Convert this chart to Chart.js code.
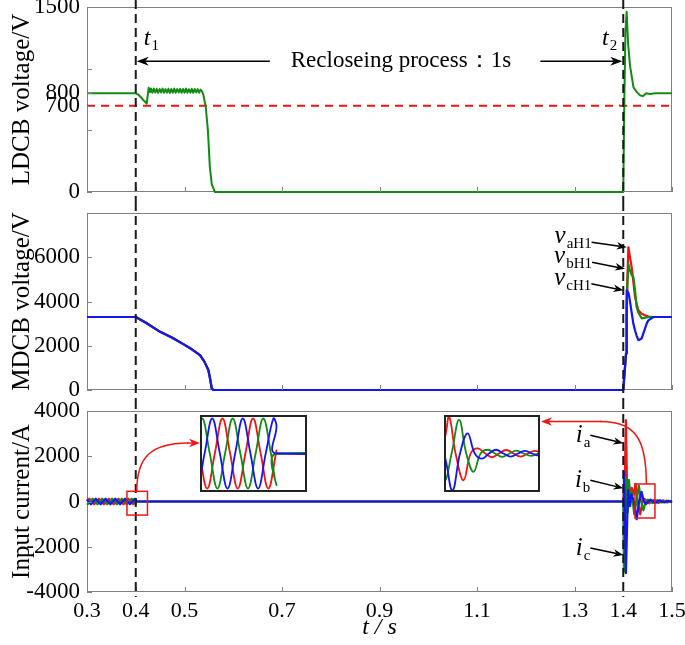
<!DOCTYPE html>
<html>
<head>
<meta charset="utf-8">
<title>Reclosing waveforms</title>
<script src="https://cdn.jsdelivr.net/npm/chart.js@4.4.1/dist/chart.umd.min.js"></script>
<style>
  body { margin: 0; background: #fff; }
  #wrap { position: relative; width: 685px; height: 645px; overflow: hidden; }
  #wrap canvas { position: absolute; }
</style>
</head>
<body>
<div id="wrap">
  <canvas id="c1" width="685" height="202"></canvas>
  <canvas id="c2" width="685" height="198"></canvas>
  <canvas id="c3" width="685" height="245"></canvas>
  <canvas id="in1" width="107" height="77"></canvas>
  <canvas id="in2" width="96" height="77"></canvas>
</div>
<script>
const RED = '#f01414', GREEN = '#138a13', BLUE = '#1414f5';
const FAM = "'Liberation Serif', 'Times New Roman', serif";
Chart.defaults.font.family = FAM;
Chart.defaults.color = '#000';

// ---- data ----
const xTickVals  = [0.3, 0.4, 0.5, 0.7, 0.9, 1.1, 1.3, 1.4, 1.5];
const eventTimes = [0.4, 1.4];

// LDCB voltage (V)
const ldcbTicks  = [0, 500, 700, 800, 1000, 1500];
const ldcbLabels = [0, 700, 800, 1500];
const ldcbT = [0.3, 0.4, 0.405, 0.41, 0.415, 0.4225, 0.425, 0.4265, 0.429, 0.431, 0.434, 0.437, 0.44, 0.443,
  0.446, 0.449, 0.452, 0.455, 0.458, 0.461, 0.464, 0.467, 0.47, 0.473, 0.476, 0.479, 0.482, 0.485, 0.488,
  0.491, 0.494, 0.497, 0.5, 0.503, 0.506, 0.509, 0.512, 0.515, 0.518, 0.521, 0.524, 0.527, 0.53, 0.533,
  0.536, 0.5385, 0.541, 0.5435, 0.548, 0.552, 0.556, 0.5626, 0.58, 1.399, 1.4, 1.402, 1.4045, 1.407, 1.41,
  1.414, 1.421, 1.428, 1.434, 1.44, 1.447, 1.455, 1.465, 1.5];
const ldcbV = [800, 800, 790, 770, 748, 717, 800, 845, 808, 840, 805, 838, 806, 836,
  804, 835, 807, 838, 805, 834, 806, 837, 804, 835, 806, 838, 805, 834, 807,
  836, 804, 835, 806, 838, 805, 833, 806, 836, 804, 835, 807, 834, 805, 830,
  815, 790, 740, 693, 500, 204, 60, 0, 0, 0, 0, 700, 1300, 1462, 1200,
  1021, 848, 810, 785, 777, 800, 795, 800, 800];
const limitT = [0.3, 1.5];
const limitV = [700, 700];

// MDCB voltage (V)
const mdcbTicks  = [0, 2000, 4000, 6000, 8000];
const mdcbLabels = [0, 2000, 4000, 6000];
const mdcbT = [0.3, 0.4, 0.42, 0.45, 0.475, 0.4976, 0.515, 0.5318, 0.541, 0.5489, 0.553, 0.5558, 0.559,
  1.4, 1.4057, 1.407, 1.4085, 1.4105, 1.4125, 1.4173, 1.4207, 1.4241, 1.4275, 1.431, 1.4378, 1.448,
  1.4515, 1.4617, 1.5];
const vaH1 = [3300, 3300, 3050, 2628, 2360, 2072, 1840, 1577, 1270, 901, 450, 75, 0,
  0, 1650, 3500, 5000, 6450, 6200, 5550, 4900, 4200, 3900, 3600, 3450, 3350, 3320, 3300, 3300];
const vbH1 = [3300, 3300, 3050, 2628, 2360, 2072, 1840, 1577, 1270, 901, 450, 75, 0,
  0, 1650, 3600, 4800, 5700, 5500, 5200, 5100, 4500, 3750, 3500, 3240, 3280, 3300, 3300, 3300];
const vcH1 = [3300, 3300, 3050, 2628, 2360, 2072, 1840, 1577, 1270, 901, 450, 75, 0,
  0, 1650, 4500, 4450, 4400, 4200, 3500, 3000, 2700, 2450, 2250, 2330, 3000, 3150, 3300, 3300];

// input currents (A)
const curTicks = [-4000, -2000, 0, 2000, 4000];
const iaT = [0.3, 0.3047, 0.3097, 0.3147, 0.3197, 0.3247, 0.3297, 0.3347, 0.3397, 0.3447, 0.3497, 0.3547,
  0.3597, 0.3647, 0.3697, 0.3747, 0.3797, 0.3847, 0.3897, 0.3947, 0.3997, 0.4, 0.4003, 1.4,
  1.4035, 1.4055, 1.4075, 1.409, 1.4115, 1.4145, 1.4175, 1.422, 1.4253, 1.4296, 1.4348, 1.4395, 1.4441,
  1.449, 1.4536, 1.458, 1.4628, 1.4676, 1.4724, 1.477, 1.4817, 1.486, 1.4905, 1.495, 1.5];
const iaV = [11, 120, 0, -120, 0, 120, 0, -120, 0, 120, 0, -120,
  0, 120, 0, -120, 0, 120, 0, -120, 0, 11, 0, 0,
  1400, 3600, 1000, -300, 950, 100, 600, 300, 785, 0, -570, 0, 110,
  0, -80, 0, 75, 0, -65, 0, 55, 0, -45, 0, 35];
const ibT = [0.3, 0.3014, 0.3064, 0.3114, 0.3164, 0.3214, 0.3264, 0.3314, 0.3364, 0.3414, 0.3464, 0.3514,
  0.3564, 0.3614, 0.3664, 0.3714, 0.3764, 0.3814, 0.3864, 0.3914, 0.3964, 0.4, 0.4003, 1.4,
  1.4015, 1.404, 1.4065, 1.409, 1.4115, 1.4145, 1.4175, 1.4225, 1.427, 1.4319, 1.4366, 1.4414, 1.446,
  1.4507, 1.4555, 1.4602, 1.465, 1.4695, 1.4743, 1.479, 1.4838, 1.4885, 1.4935, 1.498, 1.5];
const ibV = [-109, -120, 0, 120, 0, -120, 0, 120, 0, -120, 0, 120,
  0, -120, 0, 120, 0, -120, 0, 120, 0, -109, 0, 0,
  -3100, -1000, 1000, -500, 950, -200, 400, -560, 0, 715, 0, -390, 0,
  80, 0, -70, 0, 60, 0, -50, 0, 40, 0, -30, -15];
const icT = [0.3, 0.303, 0.308, 0.313, 0.318, 0.323, 0.328, 0.333, 0.338, 0.343, 0.348, 0.353,
  0.358, 0.363, 0.368, 0.373, 0.378, 0.383, 0.388, 0.393, 0.398, 0.4, 0.4003, 1.4,
  1.4015, 1.4055, 1.4085, 1.41, 1.413, 1.4165, 1.422, 1.4275, 1.4325, 1.4375, 1.4422, 1.4469,
  1.4515, 1.4562, 1.461, 1.4658, 1.4705, 1.475, 1.4797, 1.4845, 1.489, 1.4935, 1.498, 1.5];
const icV = [97, 0, -120, 0, 120, 0, -120, 0, 120, 0, -120, 0,
  120, 0, -120, 0, 120, 0, -120, 0, 120, 97, 0, 0,
  1300, -3170, -500, 500, -200, 300, 0, -785, 0, 430, 0, -110,
  0, 80, 0, -65, 0, 55, 0, -45, 0, 35, 0, -20];

// zoom windows (red boxes) and the insets that show them
const box1 = { t0: 0.382, t1: 0.424, v0: -600, v1: 450 };
const box2 = { t0: 1.424, t1: 1.465, v0: -730, v1: 775 };
const inset1 = { left: 200, top: 415, w: 107, h: 77, t0: 0.35, t1: 0.42, vmax: 132 };
const inset2 = { left: 444, top: 415, w: 96, h: 77, t0: 1.422, t1: 1.485, vmax: 820 };

// ---- helpers ----
const pts = (ts, vs) => ts.map((t, i) => ({ x: t, y: vs[i] }));

function line(ts, vs, color, width, extra) {
  return Object.assign({ data: pts(ts, vs), borderColor: color, borderWidth: width,
    pointRadius: 0, borderJoinStyle: 'round', fill: false, clip: 3 }, extra || {});
}

function currentSets(width, tension) {
  return [
    line(icT, icV, BLUE, width, { tension }),
    line(ibT, ibV, GREEN, width, { tension }),
    line(iaT, iaV, RED, width, { tension })
  ];
}

function yAxis(min, max, tickList, labelList) {
  return {
    min, max,
    afterBuildTicks: s => { s.ticks = tickList.map(v => ({ value: v })); },
    afterFit: s => { s.width = 87; s.paddingTop = 0; s.paddingBottom = 0; },
    grid: { display: false, drawTicks: false },
    border: { display: false },
    ticks: { autoSkip: false, padding: 7, font: { size: 23 },
      callback: v => labelList.includes(v) ? String(v) : '' }
  };
}

function xAxis(show) {
  return {
    type: 'linear', min: 0.3, max: 1.5, display: show,
    afterBuildTicks: s => { s.ticks = xTickVals.map(v => ({ value: v })); },
    afterFit: s => { if (show) s.height = 53; s.paddingLeft = 0; s.paddingRight = 0; },
    grid: { display: false, drawTicks: false },
    border: { display: false },
    ticks: { autoSkip: false, maxRotation: 0, padding: 6, font: { size: 22 },
      callback: v => v.toFixed(1) },
    title: { display: true, text: 't / s', font: { size: 24, style: 'italic' }, padding: { top: 0, bottom: 3 } }
  };
}

function arrow(ctx, x0, y0, x1, y1, color, head) {
  head = head || 10;
  const a = Math.atan2(y1 - y0, x1 - x0), c = Math.cos(a), s = Math.sin(a);
  ctx.save();
  ctx.strokeStyle = color; ctx.fillStyle = color; ctx.lineWidth = 1.5; ctx.setLineDash([]);
  ctx.beginPath(); ctx.moveTo(x0, y0); ctx.lineTo(x1 - head * 0.7 * c, y1 - head * 0.7 * s); ctx.stroke();
  ctx.beginPath();
  ctx.moveTo(x1, y1);
  ctx.lineTo(x1 - head * c + head * 0.38 * s, y1 - head * s - head * 0.38 * c);
  ctx.lineTo(x1 - head * 0.7 * c, y1 - head * 0.7 * s);
  ctx.lineTo(x1 - head * c - head * 0.38 * s, y1 - head * s + head * 0.38 * c);
  ctx.closePath(); ctx.fill();
  ctx.restore();
}

// italic symbol with an upright subscript, e.g. t1, vaH1, ia
function subLabel(ctx, main, sub, x, y, align, size, subSize) {
  ctx.save();
  ctx.fillStyle = '#000'; ctx.textAlign = 'left'; ctx.textBaseline = 'alphabetic';
  ctx.font = `italic ${size}px ${FAM}`;
  const w1 = ctx.measureText(main).width;
  ctx.font = `${subSize}px ${FAM}`;
  const w2 = ctx.measureText(sub).width;
  const x0 = align === 'right' ? x - w1 - w2 - 1 : x;
  ctx.font = `italic ${size}px ${FAM}`;
  ctx.fillText(main, x0, y);
  ctx.font = `${subSize}px ${FAM}`;
  ctx.fillText(sub, x0 + w1 + 1, y + 5);
  ctx.restore();
}

// frame under the data; inner tick marks, dashed event lines and the y title on top
function framePlugin(title, lineBottom) {
  return {
    id: 'frame',
    beforeDatasetsDraw(chart) {
      const { ctx, chartArea: a } = chart;
      ctx.save();
      ctx.strokeStyle = '#808080'; ctx.lineWidth = 1;
      ctx.strokeRect(a.left + 0.5, a.top + 0.5, a.right - a.left - 1, a.bottom - a.top - 1);
      ctx.restore();
    },
    afterDatasetsDraw(chart) {
      const { ctx, chartArea: a, scales: { x, y } } = chart;
      ctx.save();
      ctx.strokeStyle = '#808080'; ctx.lineWidth = 1;
      ctx.beginPath();
      xTickVals.forEach(v => {
        const px = Math.round(x.getPixelForValue(v)) + 0.5;
        ctx.moveTo(px, a.bottom); ctx.lineTo(px, a.bottom - 5);
      });
      y.ticks.forEach(t => {
        const py = Math.round(y.getPixelForValue(t.value)) + 0.5;
        ctx.moveTo(a.left, py); ctx.lineTo(a.left + 5, py);
      });
      ctx.stroke();
      ctx.strokeStyle = '#1a1a1a'; ctx.lineWidth = 2; ctx.setLineDash([9, 5]);
      ctx.beginPath();
      eventTimes.forEach(t => {
        const px = x.getPixelForValue(t);
        ctx.moveTo(px, 0); ctx.lineTo(px, lineBottom(chart));
      });
      ctx.stroke();
      ctx.setLineDash([]);
      ctx.translate(22, (a.top + a.bottom) / 2);
      ctx.rotate(-Math.PI / 2);
      ctx.font = `25px ${FAM}`; ctx.fillStyle = '#000';
      ctx.textAlign = 'center'; ctx.textBaseline = 'middle';
      ctx.fillText(title, 0, 0);
      ctx.restore();
    }
  };
}

function panel(id, top, datasets, title, yOpts, showX, padding, lineBottom, annotate) {
  const el = document.getElementById(id);
  el.style.left = '0px'; el.style.top = top + 'px';
  return new Chart(el, {
    type: 'line',
    data: { datasets },
    options: {
      responsive: false, animation: false, events: [],
      layout: { padding },
      plugins: { legend: { display: false }, tooltip: { enabled: false } },
      scales: { x: xAxis(showX), y: yOpts }
    },
    plugins: [framePlugin(title, lineBottom), { id: 'annot', afterDraw: annotate }]
  });
}

// ---- panel 1: LDCB voltage ----
panel('c1', 0, [
    line(ldcbT, ldcbV, GREEN, 2),
    line(limitT, limitV, RED, 2, { borderDash: [8, 6] })
  ],
  'LDCB voltage/V',
  yAxis(0, 1500, ldcbTicks, ldcbLabels),
  false, { left: 0, right: 13, top: 7, bottom: 10 },
  c => c.height,
  chart => {
    const { ctx, scales: { x, y } } = chart;
    const x1 = x.getPixelForValue(eventTimes[0]), x2 = x.getPixelForValue(eventTimes[1]);
    const ay = y.getPixelForValue(1060);
    subLabel(ctx, 't', '1', x1 + 8, 45, 'left', 24, 15);
    subLabel(ctx, 't', '2', x2 - 6, 45, 'right', 24, 15);
    arrow(ctx, x.getPixelForValue(0.675), ay, x1 + 1, ay, '#000', 12);
    arrow(ctx, x.getPixelForValue(1.23), ay, x2 - 1, ay, '#000', 12);
    ctx.save();
    ctx.font = `23px ${FAM}`;
    ctx.fillStyle = '#000'; ctx.textAlign = 'center'; ctx.textBaseline = 'middle';
    ctx.fillText('Recloseing process：1s', x.getPixelForValue(0.944), ay);
    ctx.restore();
  });

// ---- panel 2: MDCB voltage ----
const vNotes = [
  { sub: 'aH1', t: 1.407,  v: 6455, dx: -35, dy: -5 },
  { sub: 'bH1', t: 1.4036, v: 5480, dx: -33, dy: -6.5 },
  { sub: 'cH1', t: 1.4002, v: 4505, dx: -32, dy: -6.5 }
];
panel('c2', 202, [
    line(mdcbT, vcH1, BLUE, 2.2),
    line(mdcbT, vbH1, GREEN, 2.2),
    line(mdcbT, vaH1, RED, 2.2)
  ],
  'MDCB voltage/V',
  yAxis(0, 8000, mdcbTicks, mdcbLabels),
  false, { left: 0, right: 13, top: 11, bottom: 10 },
  c => c.height,
  chart => {
    const { ctx, scales: { x, y } } = chart;
    vNotes.forEach(n => {
      const px = x.getPixelForValue(n.t), py = y.getPixelForValue(n.v);
      arrow(ctx, px + n.dx, py + n.dy, px, py, '#000', 10);
      subLabel(ctx, 'v', n.sub, px + n.dx, py + n.dy + 1, 'right', 25, 15);
    });
  });

// ---- panel 3: input currents ----
const iNotes = [
  { sub: 'a', t: 1.4002, v: 2575,  dx: -33, dy: -8 },
  { sub: 'b', t: 1.4002, v: 584,   dx: -33, dy: -8 },
  { sub: 'c', t: 1.4002, v: -2367, dx: -33, dy: -7 }
];
panel('c3', 400, currentSets(2.2, 0),
  'Input current/A',
  yAxis(-4000, 4000, curTicks, curTicks),
  true, { left: 0, right: 13, top: 11, bottom: 0 },
  c => c.chartArea.bottom + 5,
  chart => {
    const { ctx, scales: { x, y } } = chart;
    const off = 400; // canvas top in page coordinates
    iNotes.forEach(n => {
      const px = x.getPixelForValue(n.t), py = y.getPixelForValue(n.v);
      arrow(ctx, px + n.dx, py + n.dy, px, py, '#000', 10);
      subLabel(ctx, 'i', n.sub, px + n.dx, py + n.dy + 7, 'right', 25, 15);
    });
    ctx.save();
    ctx.strokeStyle = RED; ctx.lineWidth = 1.5;
    [box1, box2].forEach(b => {
      const l = x.getPixelForValue(b.t0), r = x.getPixelForValue(b.t1);
      const t = y.getPixelForValue(b.v1), bt = y.getPixelForValue(b.v0);
      ctx.strokeRect(l, t, r - l, bt - t);
    });
    // curved arrow: box 1 -> inset 1
    const s1x = x.getPixelForValue(eventTimes[0]) + 1, s1y = y.getPixelForValue(box1.v1);
    const e1y = inset1.top - off + 28;
    ctx.beginPath();
    ctx.moveTo(s1x, s1y);
    ctx.bezierCurveTo(s1x, s1y - 33, s1x + 13, e1y, inset1.left - 12, e1y);
    ctx.stroke();
    ctx.restore();
    arrow(ctx, inset1.left - 13, e1y, inset1.left, e1y, RED, 11);
    // curved arrow: box 2 -> inset 2
    ctx.save();
    ctx.strokeStyle = RED; ctx.lineWidth = 1.5;
    const s2x = x.getPixelForValue(box2.t0 + (box2.t1 - box2.t0) * 0.57), s2y = y.getPixelForValue(box2.v1);
    const e2y = inset2.top - off + 6.5, e2x = inset2.left + inset2.w + 1;
    ctx.beginPath();
    ctx.moveTo(s2x, s2y);
    ctx.bezierCurveTo(s2x, s2y - 44, s2x - 10, e2y, s2x - 46, e2y);
    ctx.stroke();
    ctx.restore();
    arrow(ctx, s2x - 45, e2y, e2x, e2y, RED, 11);
  });

// ---- insets ----
const insetFrame = {
  id: 'insetFrame',
  beforeDraw(chart) {
    const { ctx } = chart;
    ctx.save(); ctx.fillStyle = '#fff'; ctx.fillRect(0, 0, chart.width, chart.height); ctx.restore();
  },
  afterDraw(chart) {
    const { ctx } = chart;
    ctx.save(); ctx.strokeStyle = '#222'; ctx.lineWidth = 2;
    ctx.strokeRect(1, 1, chart.width - 2, chart.height - 2); ctx.restore();
  }
};

function makeInset(id, box) {
  const el = document.getElementById(id);
  el.style.left = box.left + 'px'; el.style.top = box.top + 'px';
  return new Chart(el, {
    type: 'line',
    data: { datasets: currentSets(1.8, 0.4) },
    options: {
      responsive: false, animation: false, events: [],
      layout: { padding: 0 },
      plugins: { legend: { display: false }, tooltip: { enabled: false } },
      scales: {
        x: { type: 'linear', display: false, min: box.t0, max: box.t1 },
        y: { display: false, min: -box.vmax, max: box.vmax }
      }
    },
    plugins: [insetFrame]
  });
}
makeInset('in1', inset1);
makeInset('in2', inset2);
</script>
</body>
</html>
